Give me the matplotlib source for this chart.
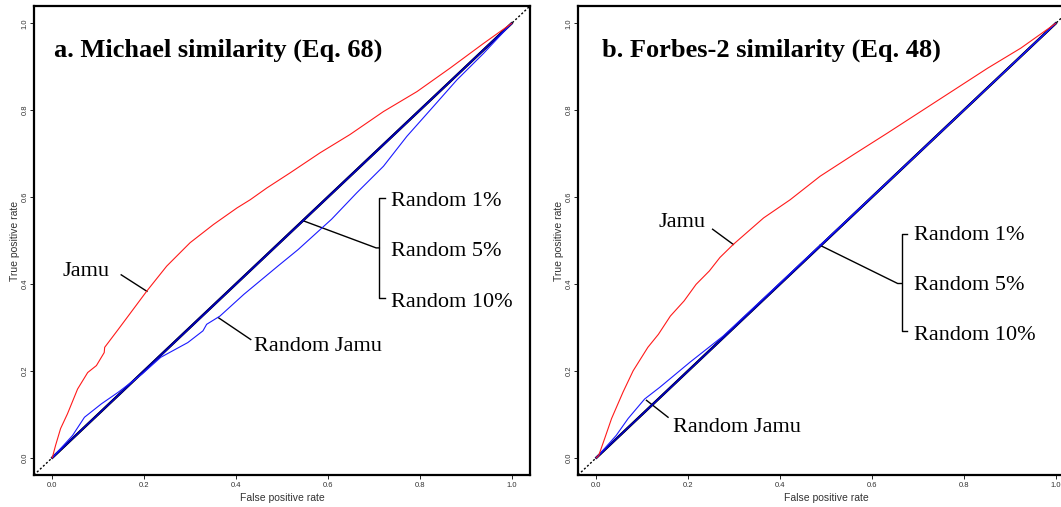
import matplotlib
matplotlib.use("Agg")
import matplotlib.pyplot as plt

# ROC curves (false positive rate, true positive rate)
a_jamu_fpr = [0, 0.007, 0.018, 0.033, 0.055, 0.077, 0.096, 0.113, 0.114, 0.144, 0.175, 0.206,
              0.249, 0.300, 0.351, 0.402, 0.431, 0.467, 0.518, 0.583, 0.648, 0.721, 0.794,
              0.866, 0.939, 1.0]
a_jamu_tpr = [0, 0.028, 0.067, 0.101, 0.158, 0.196, 0.212, 0.242, 0.254, 0.296, 0.340, 0.384,
              0.441, 0.495, 0.537, 0.575, 0.594, 0.621, 0.656, 0.702, 0.744, 0.797, 0.843,
              0.897, 0.954, 1.0]
a_rjamu_fpr = [0, 0.044, 0.070, 0.107, 0.144, 0.196, 0.236, 0.295, 0.328, 0.336, 0.365, 0.417,
               0.491, 0.535, 0.608, 0.663, 0.721, 0.772, 0.830, 0.881, 0.939, 1.0]
a_rjamu_tpr = [0, 0.051, 0.093, 0.124, 0.151, 0.193, 0.231, 0.265, 0.292, 0.307, 0.326, 0.376,
               0.441, 0.479, 0.549, 0.610, 0.671, 0.740, 0.809, 0.870, 0.931, 1.0]

b_jamu_fpr = [0, 0.005, 0.018, 0.033, 0.058, 0.080, 0.112, 0.135, 0.161, 0.191, 0.217, 0.246,
              0.269, 0.298, 0.364, 0.422, 0.487, 0.560, 0.633, 0.706, 0.779, 0.852, 0.924, 1.0]
b_jamu_tpr = [0, 0.005, 0.044, 0.090, 0.151, 0.200, 0.254, 0.284, 0.326, 0.361, 0.399, 0.430,
              0.461, 0.491, 0.552, 0.594, 0.648, 0.698, 0.747, 0.797, 0.847, 0.897, 0.943, 1.0]
b_rjamu_fpr = [0, 0.043, 0.069, 0.105, 0.138, 0.204, 0.276, 0.364, 0.483, 0.700, 1.0]
b_rjamu_tpr = [0, 0.051, 0.090, 0.135, 0.162, 0.220, 0.280, 0.367, 0.485, 0.700, 1.0]

# random baselines (almost on the diagonal)
rand_fpr = [0, 0.25, 0.5, 0.75, 1.0]
rand1_tpr = [0, 0.250, 0.500, 0.750, 1.0]
rand5_tpr = [0, 0.251, 0.501, 0.751, 1.0]
rand10_tpr = [0, 0.249, 0.499, 0.749, 1.0]

ticks = [0.0, 0.2, 0.4, 0.6, 0.8, 1.0]
tick_labels = ["0.0", "0.2", "0.4", "0.6", "0.8", "1.0"]

SERIF = "Liberation Serif"
SANS = "Liberation Sans"

panels = [
    dict(pos=[0.0320, 0.0631, 0.4675, 0.9250], title="a. Michael similarity (Eq. 68)",
         jamu=(a_jamu_fpr, a_jamu_tpr), rjamu=(a_rjamu_fpr, a_rjamu_tpr),
         title_xy=(0.004, 0.938),
         jamu_text=(0.023, 0.428), jamu_lead=((0.150, 0.421), (0.206, 0.383)),
         rj_text=(0.439, 0.255), rj_lead=((0.362, 0.322), (0.432, 0.272)),
         br_lead=((0.545, 0.546), (0.705, 0.483)), br_x=0.712, br_tick=0.725,
         br_top=0.598, br_bot=0.367, br_text_x=0.738, br_text_y=[0.590, 0.475, 0.358]),
    dict(pos=[0.5448, 0.0631, 0.4675, 0.9250], title="b. Forbes-2 similarity (Eq. 48)",
         jamu=(b_jamu_fpr, b_jamu_tpr), rjamu=(b_rjamu_fpr, b_rjamu_tpr),
         title_xy=(0.013, 0.938),
         jamu_text=(0.136, 0.541), jamu_lead=((0.253, 0.526), (0.298, 0.491)),
         rj_text=(0.166, 0.070), rj_lead=((0.109, 0.132), (0.156, 0.093)),
         br_lead=((0.487, 0.489), (0.656, 0.401)), br_x=0.665, br_tick=0.677,
         br_top=0.515, br_bot=0.291, br_text_x=0.692, br_text_y=[0.511, 0.397, 0.281]),
]

fig = plt.figure(figsize=(10.61, 5.07), dpi=100)

for p in panels:
    ax = fig.add_axes(p["pos"])
    ax.set_xlim(-0.04, 1.04)
    ax.set_ylim(-0.04, 1.04)
    ax.axline((0, 0), (1, 1), color="black", ls=(0, (1.5, 1.5)), lw=1.0, zorder=1)
    ax.plot(rand_fpr, rand1_tpr, color="black", lw=1.8, zorder=2)
    ax.plot(rand_fpr, rand5_tpr, color="#000080", lw=1.3, zorder=3)
    ax.plot(rand_fpr, rand10_tpr, color="#0000cc", lw=0.8, zorder=4)
    ax.plot(*p["rjamu"], color="#1a1aff", lw=0.8, zorder=5)
    ax.plot(*p["jamu"], color="#ff1a1a", lw=0.8, zorder=5)

    ax.text(*p["title_xy"], p["title"], family=SERIF, fontweight="bold", fontsize=19,
            va="center", ha="left")

    ax.text(*p["jamu_text"], "Jamu", family=SERIF, fontsize=16, va="center", ha="left")
    (x0, y0), (x1, y1) = p["jamu_lead"]
    ax.plot([x0, x1], [y0, y1], color="black", lw=1.0)

    ax.text(*p["rj_text"], "Random Jamu", family=SERIF, fontsize=16, va="center", ha="left")
    (x0, y0), (x1, y1) = p["rj_lead"]
    ax.plot([x0, x1], [y0, y1], color="black", lw=1.0)

    (x0, y0), (x1, y1) = p["br_lead"]
    ax.plot([x0, x1, p["br_x"]], [y0, y1, y1], color="black", lw=1.0)
    ax.plot([p["br_tick"], p["br_x"], p["br_x"], p["br_tick"]],
            [p["br_top"], p["br_top"], p["br_bot"], p["br_bot"]], color="black", lw=1.0)
    for lab, ty in zip(["Random 1%", "Random 5%", "Random 10%"], p["br_text_y"]):
        ax.text(p["br_text_x"], ty, lab, family=SERIF, fontsize=16, va="center", ha="left")

    ax.set_xticks(ticks)
    ax.set_xticklabels(tick_labels)
    ax.set_yticks(ticks)
    ax.set_yticklabels(tick_labels, rotation=90, va="center")
    ax.tick_params(length=3, width=0.6, labelsize=5.5, labelcolor="#333333")
    ax.tick_params(axis="x", pad=2)
    ax.tick_params(axis="y", pad=1)
    for lab in ax.get_xticklabels() + ax.get_yticklabels():
        lab.set_family(SANS)
    for s in ax.spines.values():
        s.set_linewidth(1.6)
    ax.set_xlabel("False positive rate", family=SANS, fontsize=7.5, color="#333333", labelpad=3)
    ax.set_ylabel("True positive rate", family=SANS, fontsize=7.5, color="#333333", labelpad=1)

fig.savefig("out.png", dpi=100)
